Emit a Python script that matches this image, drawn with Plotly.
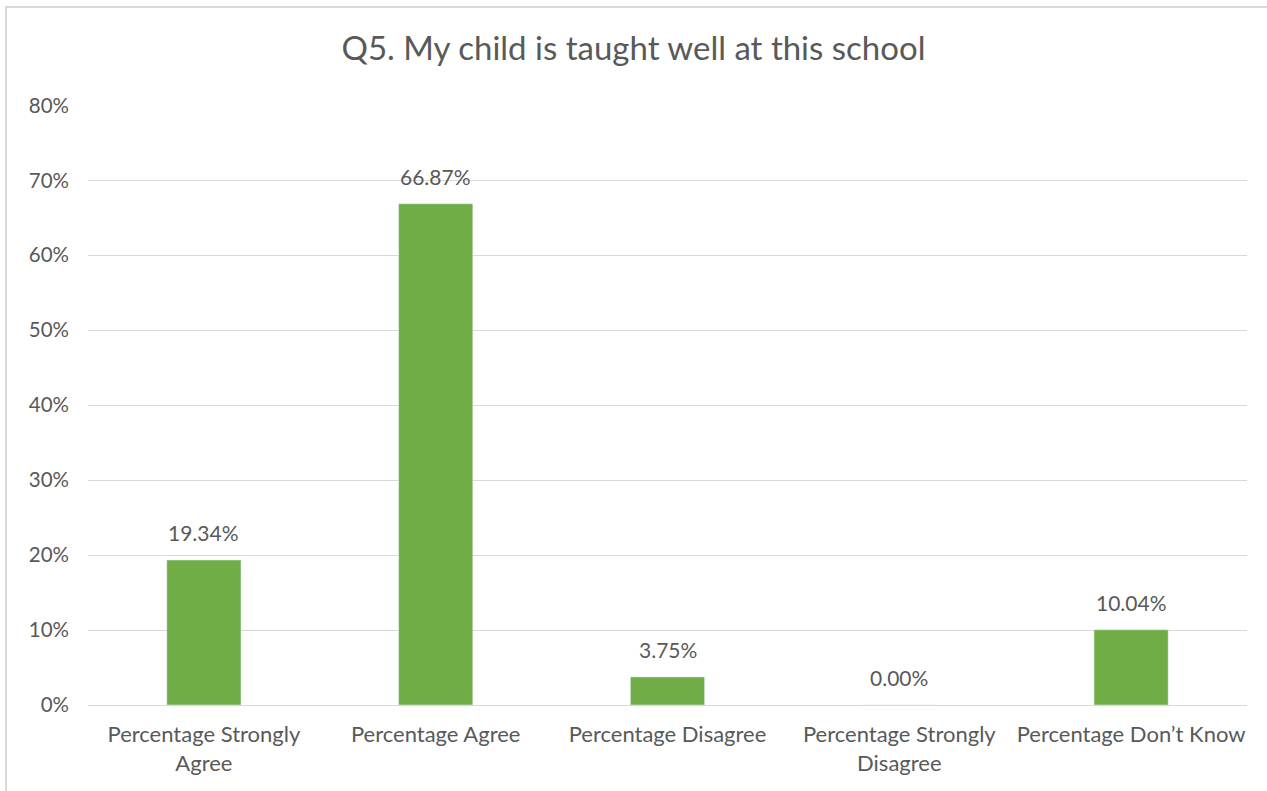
import plotly.graph_objects as go

categories = ["Percentage Strongly<br>Agree", "Percentage Agree", "Percentage Disagree",
              "Percentage Strongly<br>Disagree", "Percentage Don\u2019t Know"]
values = [19.34, 66.87, 3.75, 0.00, 10.04]
labels = ["19.34%", "66.87%", "3.75%", "0.00%", "10.04%"]
tick_vals = [0, 10, 20, 30, 40, 50, 60, 70, 80]
tick_text = ["0%", "10%", "20%", "30%", "40%", "50%", "60%", "70%", "80%"]

W, H = 1267, 791
ml, mr, mt, mb = 88, 20, 105, 86
TXT = "#595959"

fig = go.Figure(go.Bar(
    x=categories, y=values, marker_color="#70AD47", hoverinfo="x+y",
))

annotations = [dict(x=c, y=v, text=t, showarrow=False, xref="x", yref="y",
                    yanchor="bottom", yshift=13,
                    font=dict(size=21, color=TXT, family="Lato"))
               for c, v, t in zip(categories, values, labels)]

pw, ph = W - ml - mr, H - mt - mb
fig.update_layout(
    width=W, height=H,
    margin=dict(l=ml, r=mr, t=mt, b=mb, autoexpand=False),
    paper_bgcolor="white", plot_bgcolor="white",
    bargap=0.68,
    font=dict(family="Lato", color=TXT),
    title=dict(text="Q5. My child is taught well at this school", x=0.5, xanchor="center",
               y=1 - 48 / H, yanchor="middle",
               font=dict(size=33, color=TXT, family="Lato")),
    xaxis=dict(tickfont=dict(size=22, color=TXT), showline=True,
               linecolor="#D9D9D9", linewidth=1, ticks="", ticklabelstandoff=10),
    yaxis=dict(range=[0, 80.05], tickvals=tick_vals, ticktext=tick_text,
               tickfont=dict(size=20.5, color=TXT), gridcolor="#D9D9D9",
               zeroline=False, showline=False, ticks="", ticklabelstandoff=18),
    showlegend=False,
    annotations=annotations,
    shapes=[dict(type="rect", xref="paper", yref="paper",
                 x0=(6 - ml) / pw, x1=(1290 - ml) / pw,
                 y0=-(H + 20 - (H - mb)) / ph, y1=1 + (mt - 7) / ph,
                 line=dict(color="#D9D9D9", width=2), fillcolor="rgba(0,0,0,0)")],
)
fig.write_html("out.html", config={"displayModeBar": False},
               post_script="document.body.style.margin='0px';")
